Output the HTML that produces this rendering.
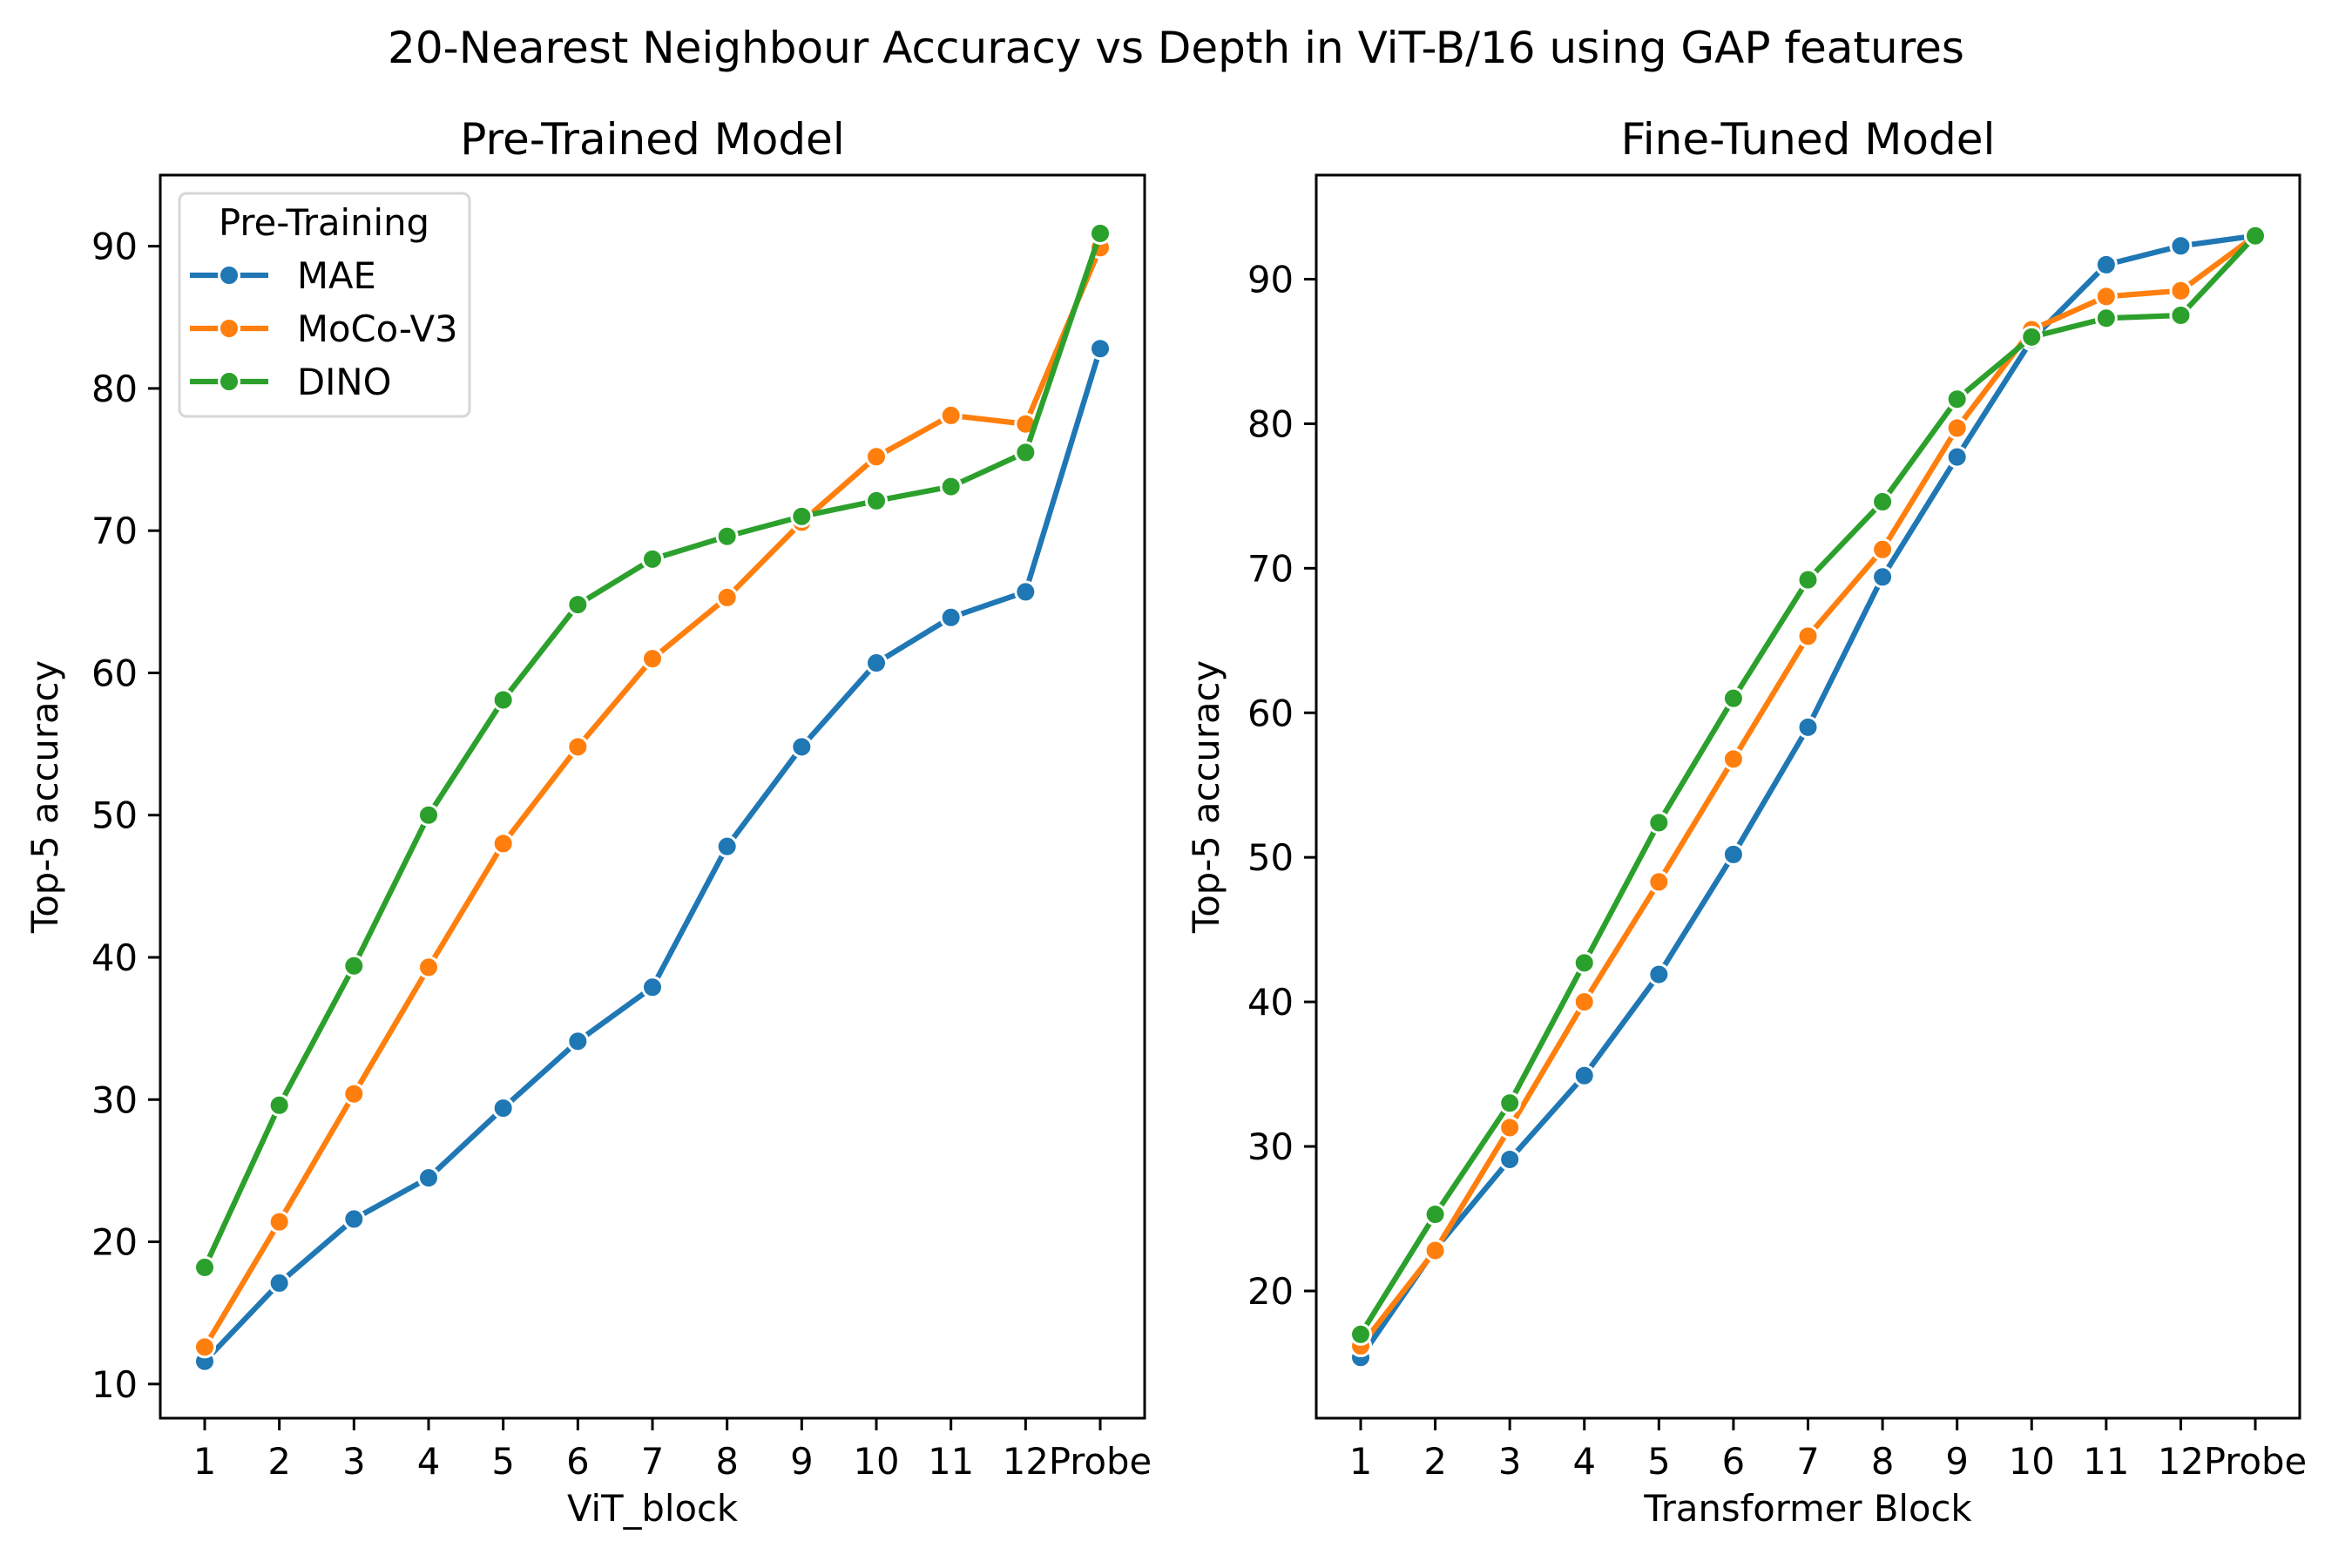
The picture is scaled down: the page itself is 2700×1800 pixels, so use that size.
<!DOCTYPE html>
<html><head><meta charset="utf-8"><style>
html,body{margin:0;padding:0;background:#fff}
svg{display:block;font-family:"DejaVu Sans","Liberation Sans",sans-serif}
</style></head><body>
<svg id="fig" width="2700" height="1800" viewBox="0 0 2700 1800" xmlns="http://www.w3.org/2000/svg">
<rect width="2700" height="1800" fill="#fff"/>
<text x="1350" y="72" font-size="50" text-anchor="middle">20-Nearest Neighbour Accuracy vs Depth in ViT-B/16 using GAP features</text>
<g id="left"></g>
<g id="right"></g>
</svg>
<script>
const categories = ["1","2","3","4","5","6","7","8","9","10","11","12","Probe"];
const seriesNames = ["MAE","MoCo-V3","DINO"];
const colors = ["#1f77b4","#ff7f0e","#2ca02c"];
const preMAE  = [11.6,17.1,21.6,24.5,29.4,34.1,37.9,47.8,54.8,60.7,63.9,65.7,82.8];
const preMoCo = [12.6,21.4,30.4,39.3,48.0,54.8,61.0,65.3,70.6,75.2,78.1,77.5,89.9];
const preDINO = [18.2,29.6,39.4,50.0,58.1,64.8,68.0,69.6,71.0,72.1,73.1,75.5,90.9];
const ftMAE  = [15.4,22.9,29.1,34.9,41.9,50.2,59.0,69.4,77.7,85.8,91.0,92.3,93.0];
const ftMoCo = [16.2,22.8,31.3,40.0,48.3,56.8,65.3,71.3,79.7,86.5,88.8,89.2,93.0];
const ftDINO = [17.0,25.3,33.0,42.7,52.4,61.0,69.2,74.6,81.7,86.0,87.3,87.5,93.0];
const preTicks = [10,20,30,40,50,60,70,80,90];
const ftTicks = [20,30,40,50,60,70,80,90];

const NS="http://www.w3.org/2000/svg";
function mk(tag,attrs,parent,txt){const e=document.createElementNS(NS,tag);for(const k in attrs)e.setAttribute(k,attrs[k]);if(txt!==undefined)e.textContent=txt;parent.appendChild(e);return e;}

function panel(g,box,ymin,ymax,yticks,series,title,xlabel,ylabelX){
  const xs=i=>box.l+51+i*(box.r-box.l-102)/(categories.length-1);
  const ys=v=>box.b-(v-ymin)/(ymax-ymin)*(box.b-box.t);
  const t=mk('text',{x:(box.l+box.r)/2,y:177,'font-size':50,'text-anchor':'middle'},g,title);
  
  
  yticks.forEach(v=>{
    const y=ys(v);
    const l=mk('line',{x1:box.l-14,x2:box.l,y1:y,y2:y,stroke:'#000','stroke-width':3},g);
    
    
    const tx=mk('text',{x:box.l-26,y:y+15,'font-size':41.7,'text-anchor':'end'},g,String(v));
    
    
  });
  categories.forEach((c,i)=>{
    const x=xs(i);
    const l=mk('line',{x1:x,x2:x,y1:box.b,y2:box.b+14,stroke:'#000','stroke-width':3},g);
    
    
    const tx=mk('text',{x:x,y:1692,'font-size':41.7,'text-anchor':'middle'},g,c);
    
    
  });
  const xl=mk('text',{x:(box.l+box.r)/2,y:1746,'font-size':41.7,'text-anchor':'middle'},g,xlabel);
  
  
  const cy=(box.t+box.b)/2;
  const yl=mk('text',{x:ylabelX,y:cy,'font-size':41.7,'text-anchor':'middle',transform:`rotate(-90 ${ylabelX} ${cy})`},g,'Top-5 accuracy');
  
  
  series.forEach((vals,si)=>{
    const pts=vals.map((v,i)=>xs(i)+','+ys(v)).join(' ');
    const pl=mk('polyline',{points:pts,fill:'none',stroke:colors[si],'stroke-width':6.25,'stroke-linejoin':'round','stroke-linecap':'round'},g);
    
    
    vals.forEach((v,i)=>{
      const c=mk('circle',{cx:xs(i),cy:ys(v),r:11.5,fill:colors[si],stroke:'#fff','stroke-width':3},g);
      
      
    });
  });
  const fr=mk('rect',{x:box.l,y:box.t,width:box.r-box.l,height:box.b-box.t,fill:'none',stroke:'#000','stroke-width':3},g);
  
  
}
const L=document.getElementById('left'),R=document.getElementById('right');
panel(L,{l:184,r:1314,t:201,b:1628},7.6,95.0,preTicks,[preMAE,preMoCo,preDINO],'Pre-Trained Model','ViT_block',66);
panel(R,{l:1511,r:2640,t:201,b:1628},11.2,97.2,ftTicks,[ftMAE,ftMoCo,ftDINO],'Fine-Tuned Model','Transformer Block',1399);

// legend
const lg=mk('g',{},L);


mk('rect',{x:206,y:222,width:333,height:256,rx:8,fill:'#fff','fill-opacity':0.8,stroke:'#d6d6d6','stroke-width':3},lg);
const lt=mk('text',{x:372,y:270,'font-size':41.7,'text-anchor':'middle'},lg,'Pre-Training');


seriesNames.forEach((n,i)=>{
  const y=316+i*61;
  const e=mk('g',{},lg);
  
  
  mk('line',{x1:218,x2:308,y1:y,y2:y,stroke:colors[i],'stroke-width':6.25},e);
  mk('circle',{cx:263,cy:y,r:11.5,fill:colors[i],stroke:'#fff','stroke-width':3},e);
  mk('text',{x:341,y:y+15,'font-size':41.7},e,n);
});
</script>
</body></html>
